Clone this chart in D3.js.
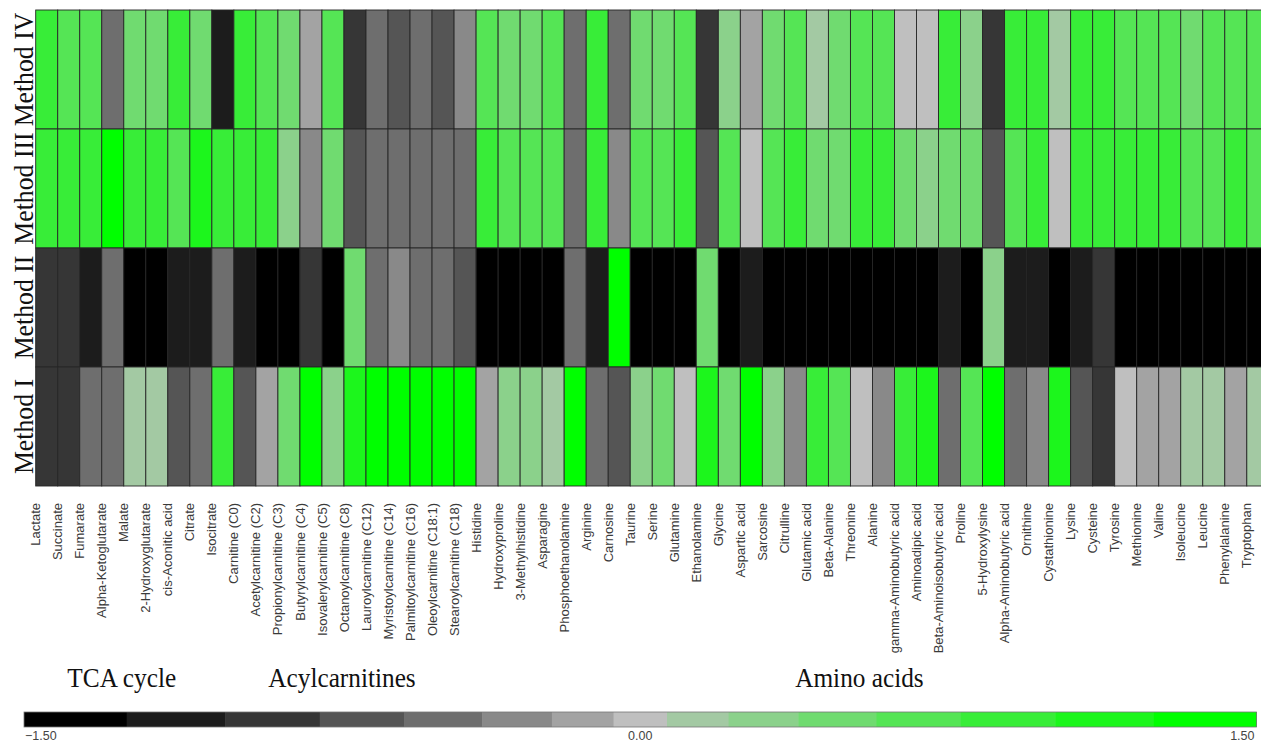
<!DOCTYPE html>
<html>
<head>
<meta charset="utf-8">
<script src="https://cdn.jsdelivr.net/npm/d3@7"></script>
<style>
  html, body { margin: 0; padding: 0; background: #fff; overflow: hidden; }
  svg { display: block; }
</style>
</head>
<body>
<div id="chart"></div>
<script>
// metabolites, left to right
var metabolites = ["Lactate", "Succinate", "Fumarate", "Alpha-Ketoglutarate", "Malate",
  "2-Hydroxyglutarate", "cis-Aconitic acid", "Citrate", "Isocitrate",
  "Carnitine (C0)", "Acetylcarnitine (C2)", "Propionylcarnitine (C3)", "Butyrylcarnitine (C4)",
  "Isovalerylcarnitine (C5)", "Octanoylcarnitine (C8)", "Lauroylcarnitine (C12)",
  "Myristoylcarnitine (C14)", "Palmitoylcarnitine (C16)", "Oleoylcarnitine (C18:1)",
  "Stearoylcarnitine (C18)", "Histidine", "Hydroxyproline", "3-Methylhistidine", "Asparagine",
  "Phosphoethanolamine", "Arginine", "Carnosine", "Taurine", "Serine", "Glutamine",
  "Ethanolamine", "Glycine", "Aspartic acid", "Sarcosine", "Citrulline", "Glutamic acid",
  "Beta-Alanine", "Threonine", "Alanine", "gamma-Aminobutyric acid", "Aminoadipic acid",
  "Beta-Aminoisobutyric acid", "Proline", "5-Hydroxylysine", "Alpha-Aminobutyric acid",
  "Ornithine", "Cystathionine", "Lysine", "Cysteine", "Tyrosine", "Methionine", "Valine",
  "Isoleucine", "Leucine", "Phenylalanine", "Tryptophan"];

var methods = ["Method IV", "Method III", "Method II", "Method I"];

// scaled values per method, same order as metabolites
var methodIV = [0.91, 0.68, 0.71, -0.48, 0.46, 0.49, 0.88, 0.47, -1.13, 0.92, 0.66, 0.45, -0.14, 0.7,
  -0.9, -0.46, -0.66, -0.49, -0.63, -0.3, 0.69, 0.48, 0.5, 0.67, -0.47, 0.9, -0.45, 0.47, 0.46, 0.7,
  -0.88, 0.29, -0.13, 0.48, 0.72, 0.13, 0.46, 0.69, 0.66, 0.02, -0.01, 0.89, 0.31, -0.92, 0.9, 0.87,
  0.14, 0.91, 0.89, 0.68, 0.7, 0.67, 0.5, 0.69, 0.71, 0.68];
var methodIII = [0.9, 0.92, 0.88, 1.36, 0.91, 0.89, 0.7, 1.14, 0.9, 0.93, 0.87, 0.3, -0.28, 0.47,
  -0.68, -0.47, -0.5, -0.46, -0.44, -0.49, 0.91, 0.69, 0.67, 0.7, -0.48, 0.92, -0.31, 0.68, 0.71, 0.9,
  -0.65, 0.69, -0.02, 0.7, 0.88, 0.48, 0.47, 0.89, 0.91, 0.46, 0.28, 0.5, 0.49, -0.67, 0.7, 0.9,
  0.01, 0.92, 0.88, 0.9, 0.91, 0.89, 0.69, 0.72, 0.9, 0.68];
var methodII = [-0.9, -0.88, -1.12, -0.47, -1.42, -1.38, -1.15, -1.1, -0.45, -1.13, -1.44, -1.4,
  -0.87, -1.46, 0.49, -0.48, -0.29, -0.46, -0.5, -0.64, -1.39, -1.43, -1.41, -1.37, -0.47, -1.16,
  1.41, -1.45, -1.4, -1.38, 0.47, -1.42, -1.09, -1.44, -1.39, -1.41, -1.47, -1.36, -1.43, -1.4,
  -1.38, -1.14, -1.42, 0.31, -1.11, -1.17, -1.39, -1.13, -0.91, -1.44, -1.4, -1.46, -1.37, -1.41,
  -1.43, -1.39];
var methodI = [-0.89, -0.92, -0.47, -0.45, 0.13, 0.15, -0.66, -0.49, 0.9, -0.69, -0.13, 0.48, 1.39,
  0.29, 1.13, 1.42, 1.44, 1.38, 1.41, 1.37, -0.14, 0.3, 0.27, 0.12, 1.4, -0.48, -0.67, 0.31, 0.47,
  0.0, 1.12, 0.49, 1.43, 0.29, -0.3, 0.89, 0.68, 0.02, -0.31, 0.91, 1.16, -0.46, 0.7, 1.39, -0.47,
  -0.28, 1.11, -0.7, -0.93, -0.01, -0.15, -0.12, 0.14, 0.12, -0.11, 0.13];

var groups = [
  {name: "TCA cycle", first: "Lactate", last: "Isocitrate"},
  {name: "Acylcarnitines", first: "Carnitine (C0)", last: "Stearoylcarnitine (C18)"},
  {name: "Amino acids", first: "Histidine", last: "Tryptophan"}
];

// colour bins of the legend
var thresholds = [-1.25, -1.01, -0.78, -0.575, -0.385, -0.215, -0.065,
                  0.065, 0.215, 0.385, 0.575, 0.78, 1.01, 1.25];
var palette = ["#000000", "#1c1c1c", "#363636", "#555555", "#6e6e6e", "#898989", "#a3a3a3",
               "#bfbfbf", "#a3c9a3", "#8bd18b", "#70db70", "#55e555", "#38ed38", "#1cf61c", "#00ff00"];
var legendTicks = [-1.5, 0, 1.5];

var width = 1261, height = 741;
var serif = "'Liberation Serif', 'Times New Roman', serif",
    sans = "'Liberation Sans', Arial, sans-serif";

var values = {"Method IV": methodIV, "Method III": methodIII, "Method II": methodII, "Method I": methodI};
var cells = [];
methods.forEach(function(m) {
  metabolites.forEach(function(name, i) {
    cells.push({method: m, name: name, value: values[m][i]});
  });
});

var svg = d3.select("#chart").append("svg")
  .attr("width", width)
  .attr("height", height);

svg.append("rect").attr("width", width).attr("height", height).attr("fill", "#fff");

var cellW = 22.02;
var x = d3.scaleBand()
  .domain(metabolites)
  .range([35.7, 35.7 + cellW * metabolites.length]);

var y = d3.scaleBand()
  .domain(methods)
  .range([10, 486]);

var color = d3.scaleThreshold()
  .domain(thresholds)
  .range(palette);

// heatmap
svg.append("g").selectAll("rect")
  .data(cells)
  .join("rect")
    .attr("x", function(d) { return x(d.name); })
    .attr("y", function(d) { return y(d.method); })
    .attr("width", x.bandwidth())
    .attr("height", y.bandwidth())
    .attr("fill", function(d) { return color(d.value); })
    .attr("stroke", "#262626")
    .attr("stroke-width", 0.9);

// method labels
svg.append("g").selectAll("text")
  .data(methods)
  .join("text")
    .attr("transform", function(m) {
      return "translate(33," + (y(m) + y.bandwidth() / 2) + ") rotate(-90) scale(0.92,1)";
    })
    .attr("text-anchor", "middle")
    .attr("font-family", serif)
    .attr("font-size", 28)
    .attr("fill", "#111")
    .text(function(m) { return m; });

// metabolite labels
svg.append("g").selectAll("text")
  .data(metabolites)
  .join("text")
    .attr("transform", function(d) { return "translate(" + x(d) + ",503) rotate(-90)"; })
    .attr("dy", "0.35em")
    .attr("text-anchor", "end")
    .attr("font-family", sans)
    .attr("font-size", 13)
    .attr("fill", "#3a3a3a")
    .text(function(d) { return d; });

// group labels
svg.append("g").selectAll("text")
  .data(groups)
  .join("text")
    .attr("transform", function(g) {
      var cx = (x(g.first) + x(g.last)) / 2 - 2;
      return "translate(" + cx + ",686.5) scale(0.92,1)";
    })
    .attr("text-anchor", "middle")
    .attr("font-family", serif)
    .attr("font-size", 27.5)
    .attr("fill", "#111")
    .text(function(g) { return g.name; });

// colour legend
var lx = d3.scaleLinear().domain([-1.5, 1.5]).range([24, 1256.5]);
var edges = [-1.5].concat(thresholds, [1.5]);
var bins = d3.range(palette.length).map(function(i) {
  return {x0: edges[i], x1: edges[i + 1], color: palette[i]};
});

var legend = svg.append("g");
legend.selectAll("rect")
  .data(bins)
  .join("rect")
    .attr("x", function(d) { return lx(d.x0); })
    .attr("y", 712)
    .attr("width", function(d) { return lx(d.x1) - lx(d.x0) + 0.5; })
    .attr("height", 15)
    .attr("fill", function(d) { return d.color; });

legend.append("rect")
  .attr("x", lx(-1.5))
  .attr("y", 712)
  .attr("width", lx(1.5) - lx(-1.5))
  .attr("height", 15)
  .attr("fill", "none")
  .attr("stroke", "#777")
  .attr("stroke-width", 0.8);

legend.selectAll("text")
  .data(legendTicks)
  .join("text")
    .attr("x", function(d) { return d === -1.5 ? lx(d) + 1 : d === 1.5 ? lx(d) - 2 : lx(d); })
    .attr("y", 739.5)
    .attr("text-anchor", function(d) { return d === -1.5 ? "start" : d === 1.5 ? "end" : "middle"; })
    .attr("font-family", sans)
    .attr("font-size", 12.5)
    .attr("fill", "#444")
    .text(function(d) { return d3.format(".2f")(d); });
</script>
</body>
</html>
